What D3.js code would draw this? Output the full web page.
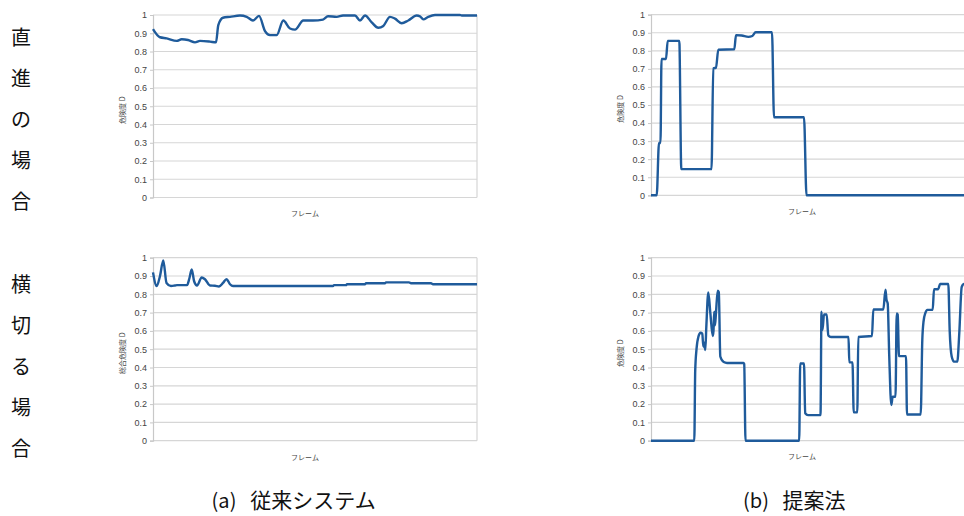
<!DOCTYPE html>
<html>
<head>
<meta charset="utf-8">
<script src="https://cdn.jsdelivr.net/npm/d3@7"></script>
<style>
  html, body { margin: 0; padding: 0; background: #fff; }
  svg { display: block; }
</style>
</head>
<body>
<svg id="fig" width="964" height="516"></svg>
<script>
// Risk level D over frames: conventional system (a) vs. proposed method (b)

// y-axis tick labels shared by all four charts
const yTickLabels = ["0", "0.1", "0.2", "0.3", "0.4", "0.5", "0.6", "0.7", "0.8", "0.9", "1"];

// row labels (written vertically on the left)
const rowLabels = ["直進の場合", "横切る場合"];
const columnCaptions = [["(a)", "従来システム"], ["(b)", "提案法"]];
const xAxisTitle = "フレーム";
const yAxisTitles = ["危険度 D", "危険度 D", "総合危険度 D", "危険度 D"];

// [frame, D] — going straight, conventional system
const straightConventional = [
  [0, 0.923], [7, 0.878], [13.7, 0.872], [23.7, 0.858], [28.7, 0.867], [35, 0.863],
  [42, 0.850], [47, 0.858], [57, 0.854], [63, 0.850], [65.3, 0.945], [70, 0.985],
  [77, 0.990], [87, 0.997], [93.7, 0.990], [100, 0.970], [106, 0.995], [112, 0.912],
  [117, 0.890], [123.7, 0.890], [130.3, 0.970], [137, 0.926], [142, 0.920], [150.3, 0.970],
  [160, 0.970], [170, 0.975], [175, 0.993], [183.7, 0.990], [190, 0.997], [202, 0.997],
  [207, 0.970], [212, 0.997], [218.7, 0.960], [225.3, 0.930], [230.3, 0.940], [237, 0.990],
  [242, 0.980], [248.7, 0.955], [255.3, 0.970], [263.7, 0.997], [267, 0.993], [270.3, 0.976],
  [275.3, 0.990], [282, 1.0], [307, 1.0], [308.7, 0.997], [324, 0.997]
];

// [frame, D] — going straight, proposed method
const straightProposed = [
  [0, 0], [5.7, 0], [8, 0.29], [9.5, 0.29], [10.5, 0.755], [15, 0.755], [16.7, 0.855],
  [28.3, 0.855], [30.3, 0.145], [60.5, 0.145], [62.3, 0.703], [65, 0.706], [67.3, 0.806],
  [83.3, 0.808], [85, 0.887], [90.7, 0.885], [97.3, 0.877], [101.3, 0.882], [104.7, 0.903],
  [121, 0.903], [123, 0.432], [153, 0.432], [155.5, 0], [324, 0]
];

// [frame, D] — crossing, conventional system (combined risk)
const crossingConventional = [
  [0, 0.92], [3.7, 0.845], [7, 0.90], [10.3, 0.985], [13.5, 0.862], [18, 0.845],
  [22, 0.848], [24, 0.850], [34, 0.850], [36.3, 0.885], [38.7, 0.936], [41.2, 0.870],
  [44, 0.848], [48.7, 0.892], [52, 0.882], [57, 0.848], [62, 0.847], [66, 0.843],
  [70, 0.862], [73.5, 0.883], [77, 0.855], [80, 0.845], [180, 0.845], [181, 0.850],
  [193, 0.850], [194, 0.855], [212, 0.855], [213, 0.860], [232, 0.860], [233, 0.865],
  [256, 0.865], [258, 0.860], [278, 0.860], [280, 0.855], [324, 0.855]
];

// [frame, D] — crossing, proposed method
const crossingProposed = [
  [0, 0], [43.3, 0], [44.2, 0.38], [45.5, 0.50], [47.5, 0.57], [49.5, 0.59], [51.3, 0.585],
  [52.3, 0.515], [53.2, 0.535], [54.3, 0.495], [55.3, 0.62], [57.3, 0.81], [59.3, 0.70],
  [61.7, 0.572], [62.5, 0.60], [63.2, 0.705], [64, 0.63], [65, 0.70], [66.7, 0.82],
  [67.8, 0.812], [69.3, 0.46], [72.7, 0.43], [76, 0.425], [92.5, 0.425], [93.2, 0.42],
  [94.5, 0], [148.2, 0], [149.2, 0.422], [153, 0.422], [154.2, 0.15], [157, 0.14],
  [169.5, 0.14], [170.5, 0.705], [171.5, 0.605], [173, 0.69], [175.7, 0.69], [177.3, 0.575],
  [180, 0.567], [197.5, 0.567], [198.3, 0.428], [201.5, 0.428], [202.7, 0.155], [206.3, 0.155],
  [207.3, 0.567], [221, 0.572], [222.3, 0.717], [232.3, 0.717], [234.5, 0.825], [235.5, 0.77],
  [236.7, 0.75], [238.2, 0.47], [240.3, 0.195], [241.7, 0.24], [244.5, 0.24], [245.7, 0.696],
  [246.7, 0.69], [248, 0.462], [255, 0.462], [256, 0.143], [269.7, 0.143], [271.3, 0.55],
  [272.5, 0.65], [274.5, 0.70], [276.3, 0.715], [281.7, 0.715], [283, 0.828], [287.3, 0.828],
  [289, 0.856], [297.3, 0.856], [298.7, 0.60], [300.7, 0.46], [303, 0.432], [306.3, 0.432],
  [308.3, 0.59], [310.7, 0.84], [313, 0.856], [324, 0.856]
];

const frameDomain = [0, 324];
const lineColor = "#1f5b9b";

const svg = d3.select("#fig");

const panels = [
  { data: straightConventional, left: 153, right: 477, top: 15, bottom: 197.5, title: yAxisTitles[0], tx: 122, fx: 305, fy: 213 },
  { data: straightProposed,     left: 651, right: 975, top: 14.7, bottom: 195.3, title: yAxisTitles[1], tx: 620, fx: 802, fy: 211 },
  { data: crossingConventional, left: 153, right: 477, top: 257.7, bottom: 440.7, title: yAxisTitles[2], tx: 122, fx: 305, fy: 457 },
  { data: crossingProposed,     left: 651, right: 975, top: 257.7, bottom: 440.7, title: yAxisTitles[3], tx: 620, fx: 802, fy: 456 }
];

const tickValues = yTickLabels.map(Number);

panels.forEach(p => {
  const x = d3.scaleLinear().domain(frameDomain).range([p.left, p.right]);
  const y = d3.scaleLinear().domain([0, 1]).range([p.bottom, p.top]);
  const g = svg.append("g");

  // horizontal gridlines
  g.append("g")
    .selectAll("line")
    .data(tickValues)
    .join("line")
    .attr("x1", p.left).attr("x2", p.right)
    .attr("y1", d => y(d)).attr("y2", d => y(d))
    .attr("stroke", "#d6d6d6")
    .attr("stroke-width", 1.2);

  // right border
  g.append("line")
    .attr("x1", p.right).attr("x2", p.right)
    .attr("y1", p.top).attr("y2", p.bottom)
    .attr("stroke", "#d6d6d6").attr("stroke-width", 1.2);

  // y axis
  const axis = d3.axisLeft(y)
    .tickValues(tickValues)
    .tickFormat((d, i) => yTickLabels[i])
    .tickSize(3)
    .tickPadding(3);
  const ag = g.append("g").attr("transform", `translate(${p.left},0)`).call(axis);
  ag.select(".domain").attr("stroke", "#c8c8c8").attr("stroke-width", 1.2);
  ag.selectAll(".tick line").attr("stroke", "#c8c8c8");
  ag.selectAll(".tick text")
    .attr("fill", "#444")
    .style("font-family", "'Liberation Sans', Arial, sans-serif")
    .style("font-size", "9px");

  // axis titles
  g.append("text")
    .attr("transform", `translate(${p.tx},${(p.top + p.bottom) / 2 + 4}) rotate(-90)`)
    .attr("text-anchor", "middle")
    .attr("dominant-baseline", "central")
    .attr("fill", "#444")
    .style("font-family", "'Noto Sans CJK JP', sans-serif")
    .style("font-size", "7px")
    .text(p.title);

  g.append("text")
    .attr("x", p.fx).attr("y", p.fy)
    .attr("text-anchor", "middle")
    .attr("dominant-baseline", "central")
    .attr("fill", "#444")
    .style("font-family", "'Noto Sans CJK JP', sans-serif")
    .style("font-size", "7px")
    .text(xAxisTitle);

  // series line
  const line = d3.line()
    .x(d => x(d[0]))
    .y(d => y(d[1]))
    .curve(d3.curveMonotoneX);

  g.append("path")
    .datum(p.data)
    .attr("d", line)
    .attr("fill", "none")
    .attr("stroke", lineColor)
    .attr("stroke-width", 2.4)
    .attr("stroke-linejoin", "round");
});

// vertical row labels
const rowLayout = [
  { x: 21, y0: 36.5 },
  { x: 21, y0: 283 }
];
rowLabels.forEach((label, r) => {
  svg.append("g").selectAll("text")
    .data(Array.from(label))
    .join("text")
    .attr("x", rowLayout[r].x)
    .attr("y", (d, i) => rowLayout[r].y0 + i * 41)
    .attr("text-anchor", "middle")
    .attr("dominant-baseline", "central")
    .attr("fill", "#111")
    .style("font-family", "'Noto Sans CJK JP', sans-serif")
    .style("font-size", "20px")
    .text(d => d);
});

// column captions
const captionLayout = [
  { xa: 224, xt: 313 },
  { xa: 756, xt: 814 }
];
columnCaptions.forEach((c, i) => {
  svg.append("text")
    .attr("x", captionLayout[i].xa).attr("y", 508)
    .attr("text-anchor", "middle")
    .attr("fill", "#111")
    .style("font-family", "'Noto Sans CJK JP', sans-serif")
    .style("font-size", "20px")
    .text(c[0]);
  svg.append("text")
    .attr("x", captionLayout[i].xt).attr("y", 508)
    .attr("text-anchor", "middle")
    .attr("fill", "#111")
    .style("font-family", "'Noto Sans CJK JP', sans-serif")
    .style("font-size", "21px")
    .text(c[1]);
});
</script>
</body>
</html>
